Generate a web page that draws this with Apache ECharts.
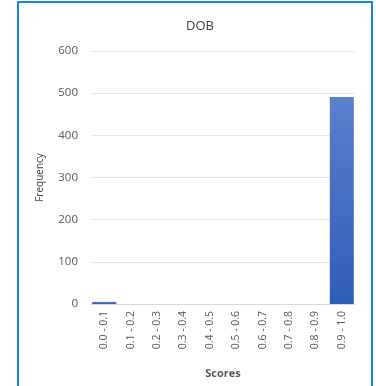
<!DOCTYPE html>
<html>
<head>
<meta charset="utf-8">
<script src="https://cdn.jsdelivr.net/npm/echarts@6/dist/echarts.min.js"></script>
<style>
  html, body { margin: 0; padding: 0; background: #fff; }
  #frame {
    position: absolute; left: 17px; top: 1px; width: 352px; height: 400px;
    border: 2px solid #1a86d6; border-bottom: none;
  }
  #main { position: absolute; left: 0; top: 0; width: 376px; height: 386px; }
</style>
</head>
<body>
<div id="frame"></div>
<div id="main"></div>
<script>
// score bins and frequencies
const categories = ['0.0 - 0.1', '0.1 - 0.2', '0.2 - 0.3', '0.3 - 0.4', '0.4 - 0.5',
  '0.5 - 0.6', '0.6 - 0.7', '0.7 - 0.8', '0.8 - 0.9', '0.9 - 1.0']
const frequency = [5, 0, 0, 0, 0, 0, 0, 0, 0, 491]

const chart = echarts.init(document.getElementById('main'))
const fontFamily = 'Open Sans, Noto Sans, sans-serif'

chart.setOption({
  animation: false,
  title: {
    text: 'DOB',
    left: 195,
    top: 15,
    textAlign: 'center',
    textStyle: { fontFamily, fontSize: 13, fontWeight: 'normal', color: '#404040' }
  },
  grid: { left: 91, right: 21, top: 51, bottom: 82 },
  xAxis: {
    type: 'category',
    data: categories,
    name: 'Scores',
    nameLocation: 'middle',
    nameGap: 64,
    nameTextStyle: { fontFamily, fontSize: 11, fontWeight: 'bold', color: '#595959' },
    axisTick: { show: false },
    axisLine: { lineStyle: { color: '#d9d9d9' } },
    axisLabel: { rotate: 90, interval: 0, margin: 7, fontFamily, fontSize: 10.5, color: '#595959' }
  },
  yAxis: {
    type: 'value',
    min: 0,
    max: 600,
    interval: 100,
    name: 'Frequency',
    nameLocation: 'middle',
    nameGap: 46,
    nameTextStyle: { fontFamily, fontSize: 10, color: '#404040' },
    axisLine: { show: false },
    axisTick: { show: false },
    axisLabel: { margin: 13, fontFamily, fontSize: 11.5, color: '#595959' },
    splitLine: { lineStyle: { color: '#e3e6ea' } }
  },
  series: [{
    type: 'bar',
    data: frequency,
    barCategoryGap: '9%',
    itemStyle: {
      color: new echarts.graphic.LinearGradient(0, 0, 0, 1, [
        { offset: 0, color: '#5b80cc' },
        { offset: 1, color: '#2e5db9' }
      ])
    }
  }]
})
</script>
</body>
</html>
